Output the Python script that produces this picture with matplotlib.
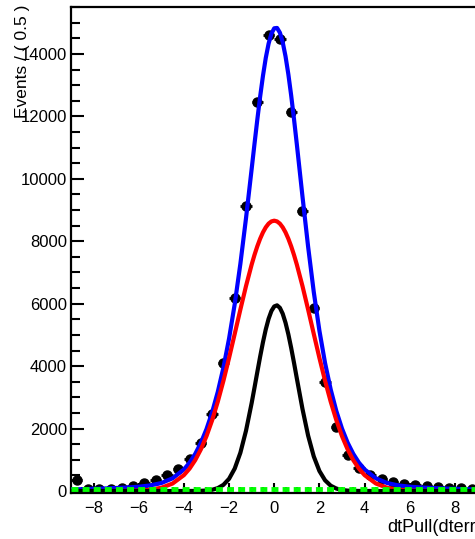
import numpy as np
import matplotlib
matplotlib.use('Agg')
import matplotlib.pyplot as plt
from matplotlib.ticker import MultipleLocator

plt.rcParams['font.family'] = ['Liberation Sans', 'DejaVu Sans']
plt.rcParams['lines.scale_dashes'] = False

# data points (bin centres, 0.5 wide bins)
bin_x = [-8.75, -8.25, -7.75, -7.25, -6.75, -6.25, -5.75, -5.25, -4.75, -4.25,
         -3.75, -3.25, -2.75, -2.25, -1.75, -1.25, -0.75, -0.25,
         0.25, 0.75, 1.25, 1.75, 2.25, 2.75, 3.25, 3.75,
         4.25, 4.75, 5.25, 5.75, 6.25, 6.75, 7.25, 7.75, 8.25, 8.75]
counts = [350, 60, 70, 80, 110, 150, 250, 340, 510, 690,
          1040, 1530, 2470, 4090, 6190, 9130, 12450, 14600,
          14480, 12130, 8970, 5860, 3500, 2060, 1150, 730,
          510, 375, 290, 220, 190, 160, 130, 100, 100, 70]

# fit curves
curve_x = [-9, -8.5, -8, -7.5, -7, -6.5, -6, -5.5, -5, -4.5,
           -4, -3.75, -3.5, -3.25, -3, -2.75, -2.5, -2.25, -2, -1.75, -1.5, -1.25,
           -1, -0.875, -0.75, -0.625, -0.5, -0.375, -0.25, -0.125,
           0, 0.125, 0.25, 0.375, 0.5, 0.625, 0.75, 0.875, 1,
           1.25, 1.5, 1.75, 2, 2.25, 2.5, 2.75, 3, 3.25, 3.5, 3.75, 4,
           4.5, 5, 5.5, 6, 6.5, 7, 7.5, 8, 8.5, 9]
total = [49, 59, 70, 81, 96, 113, 137, 178, 255, 407,
         691, 908, 1187, 1541, 1983, 2523, 3175, 3955, 4886, 5988, 7277, 8740,
         10318, 11117, 11895, 12631, 13298, 13874, 14332, 14653,
         14823, 14834, 14683, 14376, 13924, 13348, 12670, 11915, 11108,
         9438, 7826, 6377, 5136, 4101, 3253, 2561, 2000, 1548, 1190, 908, 692,
         407, 255, 178, 137, 113, 96, 81, 70, 59, 49]
wide = [0, 0, 0, 0, 2, 5, 15, 41, 103, 240,
        509, 717, 989, 1333, 1758, 2268, 2862, 3532, 4264, 5034, 5813, 6566,
        7254, 7562, 7839, 8081, 8285, 8447, 8565, 8636,
        8660, 8636, 8565, 8447, 8285, 8081, 7839, 7562, 7254,
        6566, 5813, 5034, 4264, 3532, 2862, 2268, 1758, 1333, 989, 717, 509,
        240, 103, 41, 15, 5, 2, 0, 0, 0, 0]
narrow = [0, 0, 0, 0, 0, 0, 0, 0, 0, 0,
          0, 1, 2, 6, 16, 40, 92, 197, 391, 719, 1225, 1932,
          2819, 3309, 3809, 4302, 4764, 5177, 5517, 5767,
          5913, 5948, 5868, 5679, 5390, 5019, 4584, 4107, 3609,
          2630, 1774, 1108, 641, 343, 170, 78, 33, 13, 5, 2, 1,
          0, 0, 0, 0, 0, 0, 0, 0, 0, 0]
bkg_x = [-9, 9.2]
bkg = [60, 60]

fig = plt.figure(figsize=(4.75, 5.39), dpi=100)
ax = fig.add_axes([71/475, 46/539, 411/475, 486/539])

ax.errorbar(bin_x, counts, xerr=0.25, fmt='o', color='black', ms=6.5,
            elinewidth=2, capsize=0, zorder=2)
ax.plot(curve_x, total, color='#0000ff', lw=3, zorder=3)
ax.plot(curve_x, wide, color='#ff0000', lw=3, zorder=4)
ax.plot(curve_x, narrow, color='black', lw=3, zorder=5)
ax.plot(bkg_x, bkg, color='#00ff00', lw=3.5, dashes=(5, 3), zorder=6)

ax.set_xlim(-9, 9.2)
ax.set_ylim(-64, 15505)

ax.xaxis.set_major_locator(MultipleLocator(2))
ax.xaxis.set_minor_locator(MultipleLocator(0.5))
ax.yaxis.set_major_locator(MultipleLocator(2000))
ax.yaxis.set_minor_locator(MultipleLocator(500))
ax.tick_params(axis='both', which='both', direction='in', width=1.5, labelsize=12)
ax.tick_params(axis='y', which='major', length=9.5, pad=3)
ax.tick_params(axis='y', which='minor', length=6.5)
ax.tick_params(axis='x', which='major', length=7.5, pad=6)
ax.tick_params(axis='x', which='minor', length=4)
for s in ax.spines.values():
    s.set_linewidth(1.6)

# axis titles sit at the axis ends, as in the original
fig.text(23/475, 534/539, 'Events / ( 0.5 )', rotation=90, ha='center', va='top', fontsize=12.5)
fig.text(482/475, 12/539, 'dtPull(dterr)', ha='right', va='center', fontsize=13)

fig.savefig('out.png', dpi=100)
